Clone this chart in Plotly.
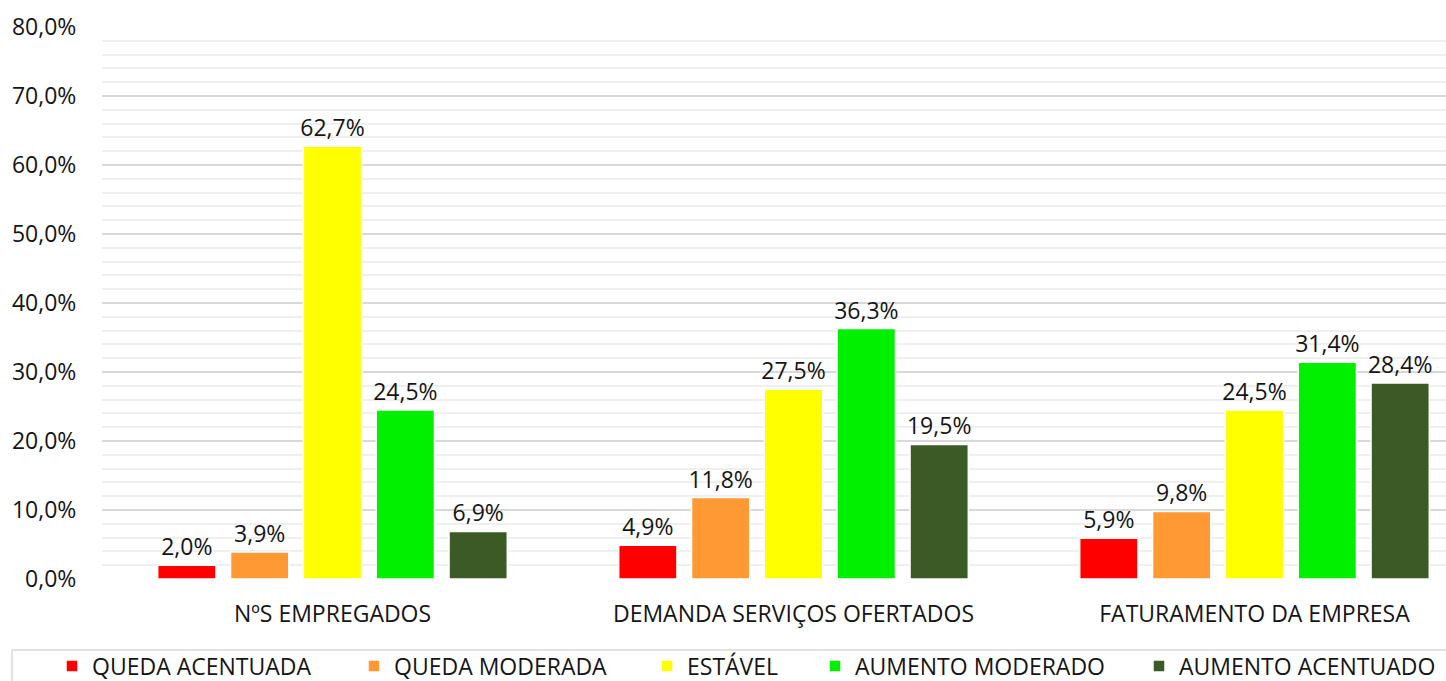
import plotly.graph_objects as go

categories = ["NºS EMPREGADOS", "DEMANDA SERVIÇOS OFERTADOS", "FATURAMENTO DA EMPRESA"]
series_names = ["QUEDA ACENTUADA", "QUEDA MODERADA", "ESTÁVEL", "AUMENTO MODERADO", "AUMENTO ACENTUADO"]
queda_acentuada = [2.0, 4.9, 5.9]
queda_moderada = [3.9, 11.8, 9.8]
estavel = [62.7, 27.5, 24.5]
aumento_moderado = [24.5, 36.3, 31.4]
aumento_acentuado = [6.9, 19.5, 28.4]
series_values = [queda_acentuada, queda_moderada, estavel, aumento_moderado, aumento_acentuado]
colors = ["#FF0000", "#FF9933", "#FFFF00", "#00F000", "#3B5A26"]
y_ticks = [0, 10, 20, 30, 40, 50, 60, 70, 80]
y_ticktext = ["0,0%", "10,0%", "20,0%", "30,0%", "40,0%", "50,0%", "60,0%", "70,0%", "80,0%"]

W, H = 1446, 681
ML, MR, MT, MB = 102, 0, 27, 102
PW, PH = W - ML - MR, H - MT - MB

def px_x(x):
    return (x - ML) / PW

def px_y(y):
    return (H - MB - y) / PH

FONT = "Open Sans"
FS = 23
TXT = "#151515"
fig = go.Figure()
legend_text_x = [92, 394, 687, 855, 1179]
for i, (name, vals, col) in enumerate(zip(series_names, series_values, colors)):
    lg = "legend" if i == 0 else f"legend{i+1}"
    fig.add_trace(go.Bar(
        name=name, x=categories, y=vals,
        marker=dict(color=col, line=dict(color="white", width=1.5)),
        text=vals, texttemplate="%{y:.1f}%", textposition="outside",
        constraintext="none",
        textfont=dict(size=FS, color=TXT, family=FONT),
        cliponaxis=False, legend=lg, showlegend=True,
    ))

layout_legends = {}
for i, tx in enumerate(legend_text_x):
    key = "legend" if i == 0 else f"legend{i+1}"
    layout_legends[key] = dict(
        x=(tx - 40) / W, y=(H - 666) / H, xref="container", yref="container",
        xanchor="left", yanchor="middle",
        orientation="h", bgcolor="rgba(0,0,0,0)", borderwidth=0,
        font=dict(size=FS, color=TXT, family=FONT),
        itemclick=False, itemdoubleclick=False,
    )

fig.update_layout(
    width=W, height=H,
    margin=dict(l=ML, r=MR, t=MT, b=MB, autoexpand=False),
    showlegend=True,
    paper_bgcolor="white", plot_bgcolor="white",
    separators=",.",
    barmode="group", bargap=0.21, bargroupgap=0.2,
    font=dict(family=FONT, size=FS, color=TXT),
    xaxis=dict(
        range=[-0.5, 2.5 - (1485 - 1446) / 461], showgrid=False, zeroline=False,
        ticks="outside", ticklen=14, tickcolor="rgba(0,0,0,0)",
        tickfont=dict(size=FS, color=TXT, family=FONT), fixedrange=True,
        automargin=False,
    ),
    yaxis=dict(
        range=[0, 80], tickvals=y_ticks, ticktext=y_ticktext,
        showgrid=True, gridcolor="#D9D9D9", gridwidth=1.5, zeroline=False,
        minor=dict(dtick=2, showgrid=True, gridcolor="#EFEFEF", gridwidth=1.5),
        ticks="outside", ticklen=20, tickcolor="rgba(0,0,0,0)",
        tickfont=dict(size=FS, color=TXT, family=FONT), fixedrange=True,
        automargin=False,
    ),
    shapes=[dict(
        type="rect", xref="paper", yref="paper",
        x0=px_x(12), x1=px_x(1460), y0=px_y(650), y1=px_y(700),
        line=dict(color="#D9D9D9", width=1.5), fillcolor="rgba(0,0,0,0)", layer="below",
    )],
    **layout_legends,
)

fig.write_html("out.html", config={"displayModeBar": False})
